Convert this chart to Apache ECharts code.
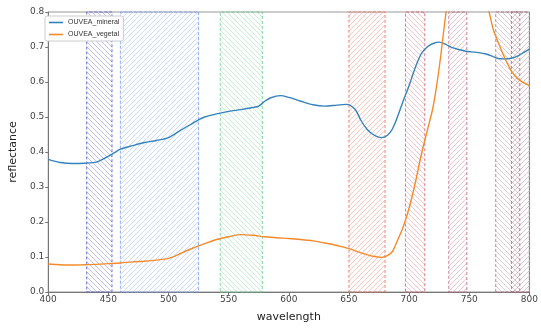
<!DOCTYPE html>
<html>
<head>
<meta charset="utf-8">
<script src="https://cdn.jsdelivr.net/npm/echarts@6/dist/echarts.min.js"></script>
<style>
  html, body { margin: 0; padding: 0; background: #fff; }
  #chart { width: 541px; height: 328px; }
</style>
</head>
<body>
<div id="chart"></div>
<script>
// spectra
var mineralWl = [400, 410, 420, 430, 440, 450, 455, 460, 470, 480, 490, 500, 510, 520, 525, 530, 540, 550, 560, 570, 575, 580, 585, 593, 600, 610, 620, 630, 640, 648, 655, 660, 665, 670, 677, 682, 686, 690, 695, 700, 705, 710, 715, 720, 725, 730, 736, 742, 747, 752, 758, 764, 769, 774, 779, 785, 790, 795, 800];
var mineralVal = [0.379, 0.370, 0.367, 0.368, 0.371, 0.388, 0.398, 0.408, 0.418, 0.427, 0.433, 0.441, 0.462, 0.482, 0.492, 0.500, 0.509, 0.516, 0.521, 0.527, 0.531, 0.545, 0.555, 0.561, 0.556, 0.545, 0.535, 0.531, 0.534, 0.536, 0.522, 0.490, 0.465, 0.450, 0.441, 0.448, 0.465, 0.497, 0.545, 0.590, 0.640, 0.680, 0.700, 0.710, 0.714, 0.708, 0.698, 0.692, 0.688, 0.686, 0.684, 0.680, 0.674, 0.667, 0.666, 0.668, 0.674, 0.684, 0.694];

var vegetalWl = [400, 410, 420, 430, 440, 450, 460, 470, 480, 490, 500, 505, 510, 520, 530, 540, 550, 560, 570, 580, 590, 600, 610, 620, 630, 640, 650, 660, 670, 677, 682, 686, 690, 695, 700, 705, 710, 715, 720, 725, 730, 735, 745, 755, 765, 770, 775, 780, 785, 790, 795, 800];
var vegetalVal = [0.080, 0.078, 0.077, 0.078, 0.079, 0.081, 0.083, 0.086, 0.088, 0.091, 0.096, 0.102, 0.110, 0.125, 0.138, 0.150, 0.158, 0.164, 0.162, 0.158, 0.155, 0.153, 0.150, 0.146, 0.140, 0.133, 0.124, 0.112, 0.102, 0.099, 0.104, 0.115, 0.145, 0.185, 0.240, 0.310, 0.390, 0.460, 0.530, 0.640, 0.780, 0.900, 0.950, 0.920, 0.820, 0.750, 0.705, 0.665, 0.632, 0.610, 0.598, 0.590];

// Sentinel-2 style bands (start, end)
var bandStart = [432, 460, 543, 650, 697, 733, 772, 785];
var bandEnd   = [453, 525, 578, 680, 713, 748, 792, 800];
var bandColor = ['#5a5ad2', '#7a9ef0', '#6fd093', '#ee6f5e', '#d9657a', '#c66a80', '#b07a8c', '#a86676'];
var bandHatch = ['\\', '/', '\\', '/', '\\', '/', '\\', '/'];

function pairs(xs, ys) {
  var out = [];
  for (var i = 0; i < xs.length; i++) out.push([xs[i], ys[i]]);
  return out;
}

// hatch tile for a band, drawn pixel by pixel (stroke came out black on '/')
function hatch(color, dir) {
  var s = 5;
  var c = document.createElement('canvas');
  c.width = s; c.height = s;
  var g = c.getContext('2d');
  g.fillStyle = color;
  g.globalAlpha = 0.45;
  for (var k = 0; k < s; k++) {
    var y = dir == '/' ? s - 1 - k : k;
    g.fillRect(k, y, 1, 1);
  }
  return c;
}

var bandAreas = [];
for (var i = 0; i < bandStart.length; i++) {
  bandAreas.push([
    {
      xAxis: bandStart[i],
      itemStyle: {
        color: { image: hatch(bandColor[i], bandHatch[i]), repeat: 'repeat' },
        borderColor: bandColor[i],
        borderWidth: 1,
        borderType: [3, 2],
        opacity: 0.85
      }
    },
    { xAxis: bandEnd[i] }
  ]);
}

var chart = echarts.init(document.getElementById('chart'));
chart.setOption({
  animation: false,
  grid: { left: 42, right: 1, top: 12, bottom: 31, show: true, borderColor: '#999', borderWidth: 1 },
  legend: {
    left: 45, top: 16, orient: 'vertical',
    icon: 'rect', itemWidth: 14, itemHeight: 1.6, itemGap: 5,
    textStyle: { fontSize: 7, color: '#333', fontFamily: 'Liberation Sans' },
    backgroundColor: '#fff', borderColor: '#ccc', borderWidth: 1, borderRadius: 2,
    padding: [3, 4, 3, 4]
  },
  xAxis: {
    type: 'value', min: 400, max: 800, interval: 50,
    name: 'wavelength', nameLocation: 'middle', nameGap: 20,
    nameTextStyle: { fontSize: 11, color: '#222', fontFamily: 'DejaVu Sans' },
    axisLine: { lineStyle: { color: '#777' } },
    axisTick: { length: 3, lineStyle: { color: '#777' } },
    axisLabel: { fontSize: 9, color: '#444', margin: 3, fontFamily: 'DejaVu Sans' },
    splitLine: { show: false }
  },
  yAxis: {
    type: 'value', min: 0, max: 0.8, interval: 0.1,
    name: 'reflectance', nameLocation: 'middle', nameGap: 26,
    nameTextStyle: { fontSize: 11, color: '#222', fontFamily: 'DejaVu Sans' },
    axisLine: { show: true, lineStyle: { color: '#777' } },
    axisTick: { show: true, length: 3, lineStyle: { color: '#777' } },
    axisLabel: { fontSize: 9, color: '#444', margin: 4, fontFamily: 'DejaVu Sans',
      formatter: function (v) { return v.toFixed(1); } },
    splitLine: { show: false }
  },
  series: [
    {
      name: 'OUVEA_mineral', type: 'line', data: pairs(mineralWl, mineralVal),
      showSymbol: false, smooth: 0.3, color: '#3482bd',
      lineStyle: { width: 1.4 },
      markArea: { silent: true, data: bandAreas }
    },
    {
      name: 'OUVEA_vegetal', type: 'line', data: pairs(vegetalWl, vegetalVal),
      showSymbol: false, smooth: 0.3, color: '#f58a2a',
      lineStyle: { width: 1.4 }
    }
  ]
});
</script>
</body>
</html>
